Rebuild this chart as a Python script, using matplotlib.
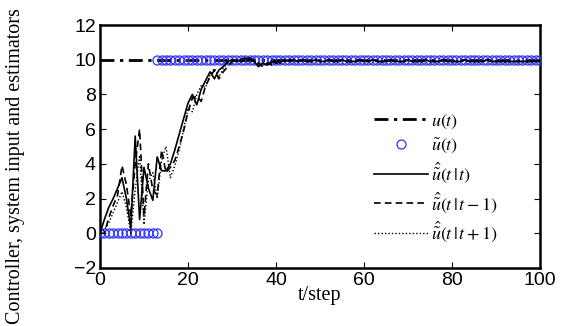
import numpy as np
import matplotlib
matplotlib.use("Agg")
import matplotlib.pyplot as plt

plt.rcParams['mathtext.fontset'] = 'stix'

t = np.arange(0, 101)

u_ref = [10] * 101

t_tilde_low = list(range(0, 14))
u_tilde_low = [0] * 14
t_tilde_high = list(range(13, 101))
u_tilde_high = [10] * 88

u_tt_head = [0, 0.8, 1.5, 2.0, 2.6, 3.2, 2.0, 0.3, 5.6, 0.8, 3.8, 2.6, 1.9, 4.4, 3.6,
             3.6, 4.0, 4.8, 5.7, 6.6, 7.5, 8.0, 7.4, 8.3, 8.8, 9.3, 8.9, 9.4, 9.6, 9.9,
             10.0, 9.9, 10.0, 10.1, 10.0, 9.9, 9.6, 9.8, 9.7, 9.9, 9.8, 9.9, 10.0, 9.9, 10.0]
u_tm1_head = [0, 0, 0.9, 1.6, 2.2, 3.9, 2.8, 1.0, 4.0, 6.0, 1.0, 4.0, 2.5, 2.2, 4.8,
              3.5, 3.8, 4.2, 5.0, 5.9, 7.0, 7.8, 7.9, 7.6, 8.5, 9.0, 9.4, 8.9, 9.3, 9.6,
              9.9, 10.0, 9.9, 10.0, 10.1, 10.0, 9.8, 9.6, 9.8, 9.7, 9.9, 9.8, 9.9, 10.0, 9.9]
u_tp1_head = [0, 0.2, 0.6, 1.2, 1.8, 2.4, 1.5, 0.0, 2.5, 4.5, 0.5, 3.0, 3.5, 2.0, 4.2,
              5.0, 3.2, 3.9, 4.8, 6.0, 7.2, 7.0, 8.0, 8.5, 8.4, 9.1, 9.5, 9.0, 9.5, 9.8,
              9.9, 10.0, 10.0, 9.9, 10.1, 9.9, 9.7, 9.7, 9.8, 9.8, 9.9, 9.9, 9.9, 10.0, 10.0]
u_tail = [9.9, 10.0, 9.9, 9.9, 10.0, 9.9, 9.9, 10.0, 9.9, 9.9, 10.0, 9.9, 9.9, 9.9,
          10.0, 9.9, 9.9, 10.0, 9.9, 9.9, 9.9, 10.0, 9.9, 9.9, 9.9, 10.0, 9.9, 9.9,
          9.9, 10.0, 9.9, 9.9, 9.9, 10.0, 9.9, 9.9, 9.9, 9.9, 10.0, 9.9, 9.9, 9.9,
          9.9, 10.0, 9.9, 9.9, 9.9, 9.9, 9.9, 9.9, 9.9, 9.9, 9.9, 9.9, 9.9, 9.9]

u_tt = u_tt_head + u_tail
u_tm1 = u_tm1_head + u_tail
u_tp1 = u_tp1_head + u_tail

fig = plt.figure(figsize=(5.68, 3.26), dpi=100)
ax = fig.add_axes([100/568, 58/326, 440/568, 243/326])

l1, = ax.plot(t, u_ref, color='black', linestyle=(0, (5, 2, 1.2, 2)), lw=2.0, zorder=2)
l2, = ax.plot(t_tilde_low, u_tilde_low, linestyle='none', marker='o', ms=6.5,
              mfc='none', mec='#3030ff', mew=0.9, zorder=3)
ax.plot(t_tilde_high, u_tilde_high, linestyle='none', marker='o', ms=6.5,
        mfc='none', mec='#3030ff', mew=0.9, zorder=3)
l3, = ax.plot(t, u_tt, color='black', lw=1.2, zorder=4)
l4, = ax.plot(t, u_tm1, color='black', lw=1.2, linestyle=(0, (4, 2.5)), zorder=4)
l5, = ax.plot(t, u_tp1, color='black', lw=1.0, linestyle=(0, (1, 1.5)), zorder=4)

ax.set_xlim(0, 100)
ax.set_ylim(-2, 12)
ax.set_xticks(range(0, 101, 20))
ax.set_yticks(range(-2, 13, 2))
ax.tick_params(direction='in', top=True, right=True, length=4, width=0.8,
               labelsize=14, pad=3)
for lab in ax.get_xticklabels() + ax.get_yticklabels():
    lab.set_fontfamily('Liberation Sans')
for s in ax.spines.values():
    s.set_linewidth(1.8)

ax.set_xlabel('t/step', fontfamily='Liberation Serif', fontsize=14.5, labelpad=-2)
ax.set_ylabel('Controller, system input and estimators', fontfamily='Liberation Serif',
              fontsize=14.5)
ax.yaxis.set_label_coords(-0.17, 0.42)

labels = [r'$u(t)$', r'$\tilde{u}(t)$', r'$\hat{\tilde{u}}(t\,|\,t)$',
          r'$\hat{\tilde{u}}(t\,|\,t-1)$', r'$\hat{\tilde{u}}(t\,|\,t+1)$']
leg = ax.legend([l1, l2, l3, l4, l5], labels, loc='lower left',
                bbox_to_anchor=(0.585, 0.03), frameon=False, fontsize=13,
                handlelength=3, labelspacing=0.28, handletextpad=0.15)

fig.savefig('out.png', dpi=100)
